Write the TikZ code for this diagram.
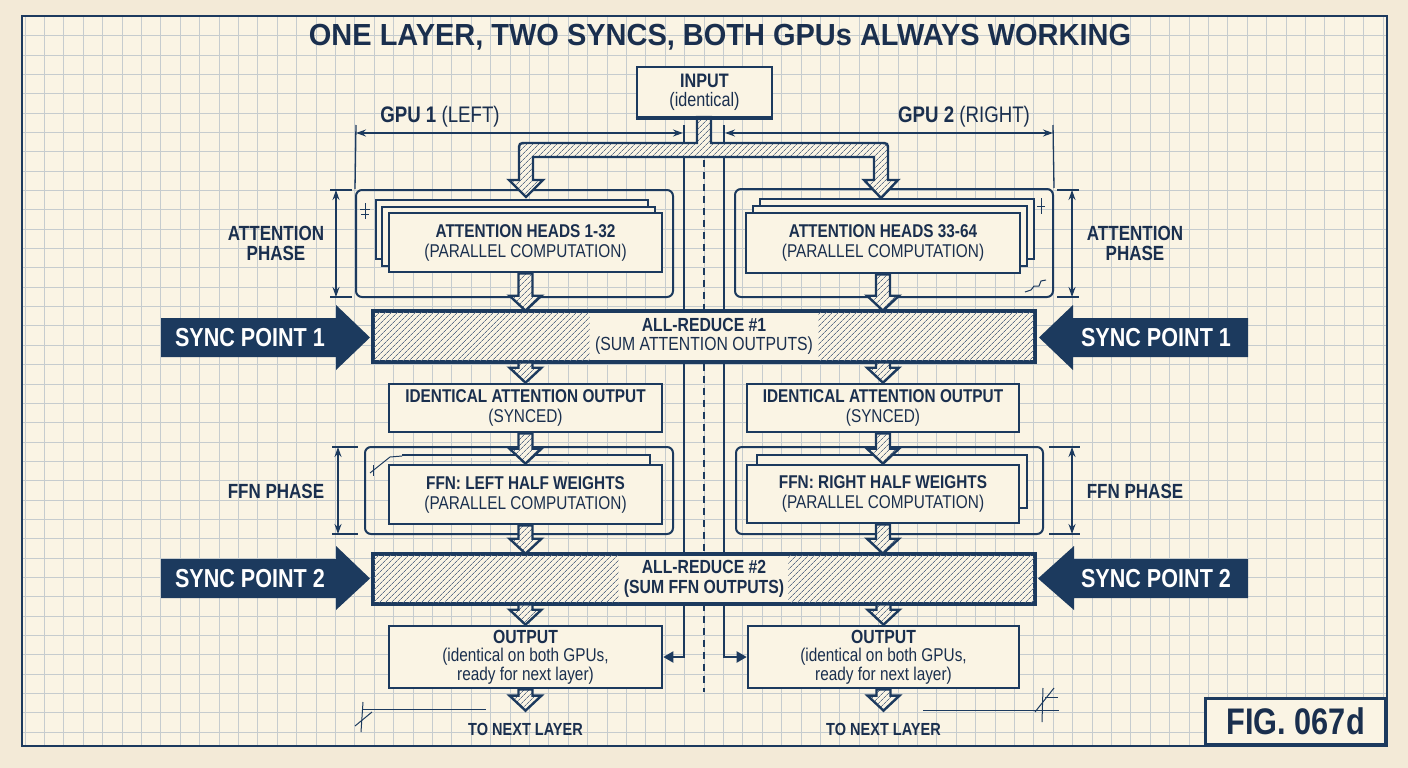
\documentclass[tikz,border=0pt]{standalone}
\usepackage{fontspec}
\setmainfont{Liberation Sans}[FakeStretch=0.83]
\newfontfamily\titlefont{Liberation Sans}[FakeStretch=0.95]
\usetikzlibrary{calc,patterns.meta,arrows.meta}
\definecolor{navy}{HTML}{1C3A5E}
\definecolor{ink}{HTML}{1A2F4E}
\definecolor{paper}{HTML}{FAF4E4}
\definecolor{marginc}{HTML}{F3EAD7}
\definecolor{gridc}{HTML}{C6CCCE}
\definecolor{hatchc}{HTML}{5F7088}
\pgfdeclarelayer{bg}
\pgfdeclarelayer{back}
\pgfsetlayers{bg,back,main}
\tikzset{
  box/.style={draw=navy, line width=2.6pt, fill=paper, minimum width=273pt, minimum height=48pt,
    inner sep=0pt, align=center, text=ink, font=\fontsize{18.5}{20}\selectfont},
  sheet/.style={draw=navy, line width=2.4pt, fill=paper},
  container/.style={draw=navy, line width=2pt, rounded corners=6pt, inner sep=0pt},
  hatchshape/.style={preaction={fill=paper}, pattern={Lines[angle=45,distance=4pt,line width=0.75pt]},
    pattern color=hatchc, draw=navy, line width=2.4pt, line join=miter},
  hatchonly/.style={pattern={Lines[angle=45,distance=4pt,line width=0.75pt]}, pattern color=hatchc},
  bar/.style={draw=navy, line width=2.6pt, fill=paper, minimum width=660pt, minimum height=49pt,
    inner sep=0pt, align=center, text=ink, font=\fontsize{19}{19.5}\selectfont},
  syncarrow/.style={fill=navy},
  synctext/.style={text=white, font=\bfseries\fontsize{26}{26}\selectfont, inner sep=0pt},
  label/.style={text=ink, align=center, inner sep=0pt},
  phase/.style={text=ink, align=center, inner sep=0pt, font=\bfseries\fontsize{20.5}{20}\selectfont},
  dimline/.style={draw=navy, line width=1.4pt},
  dimtips/.style={{Stealth[length=10pt,width=7pt]}-{Stealth[length=10pt,width=7pt]}},
  thinline/.style={draw=navy, line width=1.3pt},
  cline/.style={draw=navy, line width=2pt, -{Triangle[length=10pt,width=11pt]}},
  scribble/.style={draw=navy, line width=1pt},
}
\newcommand\harrow[2]{%
  \path[hatchshape] let \p1=(#1), \p2=(#2) in
    ({\x1-7pt},\y1) -- ({\x1-7pt},{\y2+15pt}) -- ({\x1-16pt},{\y2+15pt}) -- (\x1,\y2)
    -- ({\x1+16pt},{\y2+15pt}) -- ({\x1+7pt},{\y2+15pt}) -- ({\x1+7pt},\y1) -- cycle;}
\begin{document}
\begin{tikzpicture}[x=1pt,y=-1pt]
\useasboundingbox (0,0) rectangle (1408,768);
\begin{pgfonlayer}{bg}
  \fill[marginc] (0,0) rectangle (1408,768);
  \fill[paper] (22,16) rectangle (1387,746);
  \begin{scope}
    \clip (22,16) rectangle (1387,746);
    \foreach \i in {0,...,70} \draw[gridc, line width=0.9pt] ({25+19.4*\i},16) -- ({25+19.4*\i},746);
    \foreach \j in {0,...,38} \draw[gridc, line width=0.9pt] (22,{16.3+19.35*\j}) -- (1387,{16.3+19.35*\j});
  \end{scope}
  \draw[navy, line width=2.6pt] (22,16) rectangle (1387,746);
\end{pgfonlayer}

% title
\node[text=ink, inner sep=0pt, font=\titlefont\bfseries\fontsize{30.5}{30}\selectfont] (title) at (720,37)
  {ONE LAYER, TWO SYNCS, BOTH GPUs ALWAYS WORKING};

% input
\node[box, minimum width=135pt, minimum height=50pt, font=\fontsize{19.5}{19}\selectfont] (input) at (704.5,92)
  {{\bfseries INPUT}\\(identical)};

% GPU labels and dimension lines
\node[label, font=\fontsize{22.5}{22}\selectfont] (gpu1) at (440,117) {{\bfseries GPU 1} (LEFT)};
\node[label, font=\fontsize{22.5}{22}\selectfont] (gpu2) at (964,117) {{\bfseries GPU 2} (RIGHT)};
\coordinate (g1a) at (356,133); \coordinate (g1b) at (683,133);
\coordinate (g2a) at (725,133); \coordinate (g2b) at (1053,133);
\coordinate (e1t) at (356,125); \coordinate (e2t) at (1053,125);
\coordinate (c1t) at (684,125); \coordinate (c2t) at (724,125);
\coordinate (dct) at (704,160); \coordinate (dcb) at (704,692);

% containers
\node[container, minimum width=317pt, minimum height=107pt] (attc1) at (514.5,243.5) {};
\node[container, minimum width=318pt, minimum height=108pt] (attc2) at (894,243) {};
\node[container, minimum width=308pt, minimum height=87pt] (ffnc1) at (519,490.5) {};
\node[container, minimum width=307pt, minimum height=87pt] (ffnc2) at (889.5,490.5) {};

% attention stacks
\draw[sheet] (376,200) rectangle (648,259);
\draw[sheet] (382,207) rectangle (655,266);
\node[box, minimum height=59pt] (att1) at (525.5,242.5)
  {{\bfseries ATTENTION HEADS 1-32}\\(PARALLEL COMPUTATION)};
\draw[sheet] (760,199) rectangle (1034,259);
\draw[sheet] (753,206) rectangle (1027,266);
\node[box, minimum width=274pt, minimum height=60pt] (att2) at (883,243)
  {{\bfseries ATTENTION HEADS 33-64}\\(PARALLEL COMPUTATION)};

% phase labels
\node[phase] (ap1) at (276,243) {ATTENTION\\PHASE};
\node[phase] (ap2) at (1135,243) {ATTENTION\\PHASE};
\node[phase] (fp1) at (276,491) {FFN PHASE};
\node[phase] (fp2) at (1135,491) {FFN PHASE};
\draw[thinline] (330,190) -- (352,190); \draw[thinline] (330,297) -- (352,297);
\draw[dimline, dimtips] (336,190) -- (336,297);
\draw[thinline] (1057,190) -- (1079,190); \draw[thinline] (1057,297) -- (1079,297);
\draw[dimline, dimtips] (1072,190) -- (1072,297);
\draw[thinline] (332,447) -- (358,447); \draw[thinline] (332,534) -- (358,534);
\draw[dimline, dimtips] (338,447) -- (338,534);
\draw[thinline] (1049,447) -- (1080,447); \draw[thinline] (1049,534) -- (1080,534);
\draw[dimline, dimtips] (1072,447) -- (1072,534);

% identical outputs
\node[box, minimum height=48pt] (id1) at (525.5,408)
  {{\bfseries IDENTICAL ATTENTION OUTPUT}\\(SYNCED)};
\node[box, minimum width=272pt, minimum height=48pt] (id2) at (883,408)
  {{\bfseries IDENTICAL ATTENTION OUTPUT}\\(SYNCED)};

% FFN
\draw[sheet] (402,455) -- (650,455) -- (650,465);
\node[box, minimum height=59pt] (ffn1) at (525.5,494.5)
  {{\bfseries FFN: LEFT HALF WEIGHTS}\\(PARALLEL COMPUTATION)};
\draw[sheet] (757,465) -- (757,455) -- (1027,455) -- (1027,508) -- (1019,508);
\node[box, minimum width=272pt, minimum height=58pt] (ffn2) at (883,494)
  {{\bfseries FFN: RIGHT HALF WEIGHTS}\\(PARALLEL COMPUTATION)};

% outputs
\node[box, minimum height=62pt, font=\fontsize{18.5}{18.5}\selectfont] (out1) at (525.5,657)
  {{\bfseries\fontsize{19}{18.5}\selectfont OUTPUT}\\(identical on both GPUs,\\ready for next layer)};
\node[box, minimum width=271pt, minimum height=62pt, font=\fontsize{18.5}{18.5}\selectfont] (out2) at (883.5,657)
  {{\bfseries\fontsize{19}{18.5}\selectfont OUTPUT}\\(identical on both GPUs,\\ready for next layer)};
\node[label, font=\bfseries\fontsize{17.5}{17.5}\selectfont] (nl1) at (525.5,729) {TO NEXT LAYER};
\node[label, font=\bfseries\fontsize{17.5}{17.5}\selectfont] (nl2) at (883.5,729) {TO NEXT LAYER};

% all-reduce bars
\node[bar] (ar1) at (704,336.5) {{\bfseries ALL-REDUCE \#1}\\(SUM ATTENTION OUTPUTS)};
\fill[hatchonly] (ar1.north west) rectangle ($(ar1.south west)+(217,0)$);
\fill[hatchonly] ($(ar1.north east)+(-217,0)$) rectangle (ar1.south east);
\draw[navy, line width=2.6pt] (ar1.north west) rectangle (ar1.south east);
\node[bar, minimum height=48pt, font=\bfseries\fontsize{19}{19.5}\selectfont] (ar2) at (704,579) {ALL-REDUCE \#2\\(SUM FFN OUTPUTS)};
\fill[hatchonly] (ar2.north west) rectangle ($(ar2.south west)+(246,0)$);
\fill[hatchonly] ($(ar2.north east)+(-247,0)$) rectangle (ar2.south east);
\draw[navy, line width=2.6pt] (ar2.north west) rectangle (ar2.south east);

% lines on back layer
\begin{pgfonlayer}{back}
  \draw[dimline, dimtips] (g1a) -- (g1b);
  \draw[dimline, dimtips] (g2a) -- (g2b);
  \draw[thinline] (e1t) -- (attc1.north west);
  \draw[thinline] (e2t) -- (attc2.north east);
  \draw[cline] (c1t) |- (out1.east);
  \draw[cline] (c2t) |- (out2.west);
  \draw[navy, line width=1.3pt, dash pattern=on 7pt off 5pt] (dct) -- (dcb);
\end{pgfonlayer}

% input split pipe
\path[hatchshape] (697,117) -- (697,143) -- (527,143) .. controls (519,143) .. (519,151) -- (519,180)
  -- (509,180) -- (526,197) -- (543,180) -- (533,180) -- (533,157) -- (874,157) -- (874,180)
  -- (864,180) -- (881,198) -- (898,180) -- (888,180) -- (888,151) .. controls (888,143) .. (880,143)
  -- (711,143) -- (711,117) -- cycle;
\draw[navy, line width=2.6pt] (input.south west) -- (input.south east);

% hatched flow arrows
\harrow{att1.south}{ar1.north}
\harrow{att2.south}{ar1.north}
\harrow{id1.north |- ar1.south}{id1.north}
\harrow{id2.north |- ar1.south}{id2.north}
\harrow{id1.south}{ffn1.north}
\harrow{id2.south}{ffn2.north}
\harrow{ffn1.south}{ar2.north}
\harrow{ffn2.south}{ar2.north}
\harrow{out1.north |- ar2.south}{out1.north}
\harrow{out2.north |- ar2.south}{out2.north}
\harrow{out1.south}{[yshift=12pt]nl1.north}
\harrow{out2.south}{[yshift=12pt]nl2.north}

% sync arrows
\fill[syncarrow] (161,318) -- (336,318) -- (336,305) -- (370,337.5) -- (336,370) -- (336,357) -- (161,357) -- cycle;
\node[synctext] (s1l) at (250,338) {SYNC POINT 1};
\fill[syncarrow] (1248,318) -- (1073,318) -- (1073,305) -- (1039,337.5) -- (1073,370) -- (1073,357) -- (1248,357) -- cycle;
\node[synctext] (s1r) at (1156,338) {SYNC POINT 1};
\fill[syncarrow] (161,559) -- (336,559) -- (336,546) -- (370,578.5) -- (336,610) -- (336,598) -- (161,598) -- cycle;
\node[synctext] (s2l) at (250,579) {SYNC POINT 2};
\fill[syncarrow] (1248,559) -- (1074,559) -- (1074,546) -- (1038,578.5) -- (1074,610) -- (1074,598) -- (1248,598) -- cycle;
\node[synctext] (s2r) at (1156,579) {SYNC POINT 2};

% figure tag
\node[draw=navy, line width=2.6pt, fill=paper, minimum width=180pt, minimum height=46pt, anchor=south east,
  text=ink, font=\bfseries\fontsize{37}{37}\selectfont] (fig) at (1387,746) {FIG. 067d};

% scribbles
\draw[scribble] (365,203) -- (365,219); \draw[scribble] (360,209) -- (370,209); \draw[scribble] (361,214) -- (369,214);
\draw[scribble] (1041,198) -- (1041,214); \draw[scribble] (1037,206) -- (1045,206);
\draw[scribble] (1025,292) -- (1031,290) -- (1034,286) -- (1039,286) -- (1041,281) -- (1046,280);
\draw[scribble] (370,473) -- (390,457) -- (402,456); \draw[scribble] (373,465) -- (373,476);
\draw[scribble] (363,709) -- (486,709); \draw[scribble] (363,702) -- (361,732); \draw[scribble] (355,726) -- (372,712);
\draw[scribble] (923,710) -- (1059,710); \draw[scribble] (1043,688) -- (1042,722); \draw[scribble] (1035,712) -- (1054,688);
\draw[scribble] (1045,697) -- (1058,697);
\end{tikzpicture}
\end{document}
